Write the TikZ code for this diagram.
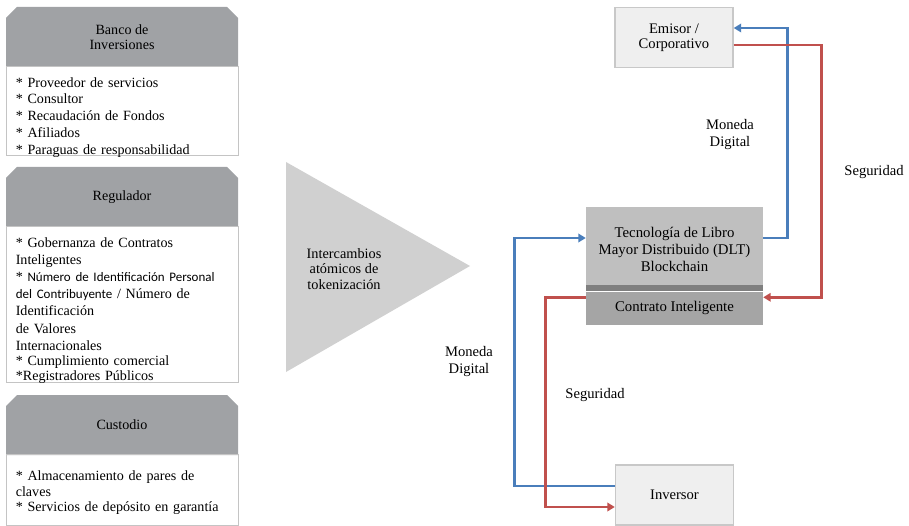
\documentclass[tikz,border=0pt]{standalone}
\usepackage{fontspec}
\setmainfont{Liberation Serif}
\newfontfamily\calib{Carlito}
\usetikzlibrary{arrows.meta,calc}
\definecolor{hdrgray}{HTML}{A0A2A5}
\definecolor{bodyline}{HTML}{C4C4C4}
\definecolor{trigray}{HTML}{D0D0D0}
\definecolor{boxfill}{HTML}{EFEFEF}
\definecolor{boxline}{HTML}{C8C8C8}
\definecolor{dltfill}{HTML}{BFBFBF}
\definecolor{bandfill}{HTML}{7F7F7F}
\definecolor{confill}{HTML}{A5A5A5}
\definecolor{myblue}{HTML}{4A7EBB}
\definecolor{myred}{HTML}{C0504D}
\newcommand\smallsans{\calib\fontsize{13}{17}\selectfont}
\begin{document}
\begin{tikzpicture}[x=1pt,y=-1pt,
  every node/.style={font=\fontsize{14.6}{17}\selectfont},
  hdr/.style={minimum width=232, minimum height=60, inner sep=0pt, align=center,
    font=\fontsize{14.1}{15.5}\selectfont,
    path picture={\fill[hdrgray] (path picture bounding box.south west)
      -- ($(path picture bounding box.north west)+(0,11)$)
      -- ($(path picture bounding box.north west)+(11,0)$)
      -- ($(path picture bounding box.north east)+(-11,0)$)
      -- ($(path picture bounding box.north east)+(0,11)$)
      -- (path picture bounding box.south east) -- cycle;}},
  bodybox/.style={draw=bodyline, line width=0.8pt, minimum width=232, inner sep=0pt},
  bodytext/.style={anchor=north west, inner sep=0pt, align=left, text width=218pt},
  plainbox/.style={draw=boxline, line width=1.4pt, fill=boxfill, minimum width=118, minimum height=60, align=center,
    font=\fontsize{14.6}{15.5}\selectfont},
  flow/.style={line width=2.8pt, -{Triangle[length=7.5pt,width=8.5pt]}},
  lbl/.style={align=center, inner sep=0pt}]
\useasboundingbox (0,0) rectangle (909,526);

% left column
\node[hdr] (h1) at (122,37) {Banco de\\Inversiones};
\node[bodybox, minimum height=89] (b1) at (122,110.5) {};
\node[bodytext, font=\fontsize{14.1}{16.8}\selectfont] (t1) at ($(b1.north west)+(10,11.5)$) {* Proveedor de servicios\\{}* Consultor\\{}* Recaudación de Fondos\\{}* Afiliados\\{}* Paraguas de responsabilidad};
\node[hdr] (h2) at (122,197) {Regulador};
\node[bodybox, minimum height=156] (b2) at (122,304) {};
\node[bodytext, font=\fontsize{14.1}{17.2}\selectfont] (t2) at ($(b2.north west)+(10,11.5)$) {* Gobernanza de Contratos\\Inteligentes\\{}* {\smallsans Número de Identificación Personal}\\{\smallsans del Contribuyente} / Número de\\Identificación\\de Valores\\Internacionales\\[-2pt]{}* Cumplimiento comercial\\[-2pt]{}*Registradores Públicos};
\node[hdr] (h3) at (122,425) {Custodio};
\node[bodybox, minimum height=71] (b3) at (122,489.5) {};
\node[bodytext, font=\fontsize{14.1}{15.7}\selectfont] (t3) at ($(b3.north west)+(10,17)$) {* Almacenamiento de pares de\\claves\\{}* Servicios de depósito en garantía};

% triangle
\fill[trigray] (286,162) -- (470,266) -- (286,372) -- cycle;
\node[lbl, font=\fontsize{14.3}{15.5}\selectfont] (tri) at (344,269) {Intercambios\\atómicos de\\tokenización};

% right side boxes
\node[plainbox] (emi) at (674,37.5) {Emisor /\\Corporativo};
\node[plainbox] (inv) at (674.5,495) {Inversor};
\node[fill=dltfill, minimum width=177, minimum height=78, inner sep=0pt] (dlt) at (674.5,246) {};
\node[lbl, font=\fontsize{14.8}{17}\selectfont] (dlttext) at (674.5,249) {Tecnología de Libro\\Mayor Distribuido (DLT)\\Blockchain};
\node[fill=bandfill, minimum width=177, minimum height=6, inner sep=0pt, anchor=north] (band) at (dlt.south) {};
\node[fill=confill, minimum width=177, minimum height=33, inner sep=0pt, anchor=north, font=\fontsize{14.8}{17}\selectfont] (con) at (band.south) {Contrato Inteligente};

% connectors
\draw[flow, myblue] ($(dlt.east)+(0,-8)$) -- ++(24,0) |- ($(emi.east)+(0,-9.5)$);
\draw[flow, myred] ($(emi.east)+(0,7.5)$) -- ++(88,0) |- ($(con.east)+(0,-11)$);
\draw[flow, myblue] ($(inv.west)+(0,-9)$) -- ++(-100,0) |- ($(dlt.west)+(0,-8)$);
\draw[flow, myred] ($(con.west)+(0,-11)$) -- ++(-40,0) |- ($(inv.west)+(0,12)$);

% labels
\node[lbl] (md1) at (730,135) {Moneda\\Digital};
\node[lbl] (seg1) at (874,172) {Seguridad};
\node[lbl] (md2) at (469,362) {Moneda\\Digital};
\node[lbl] (seg2) at (595,395) {Seguridad};
\end{tikzpicture}
\end{document}
